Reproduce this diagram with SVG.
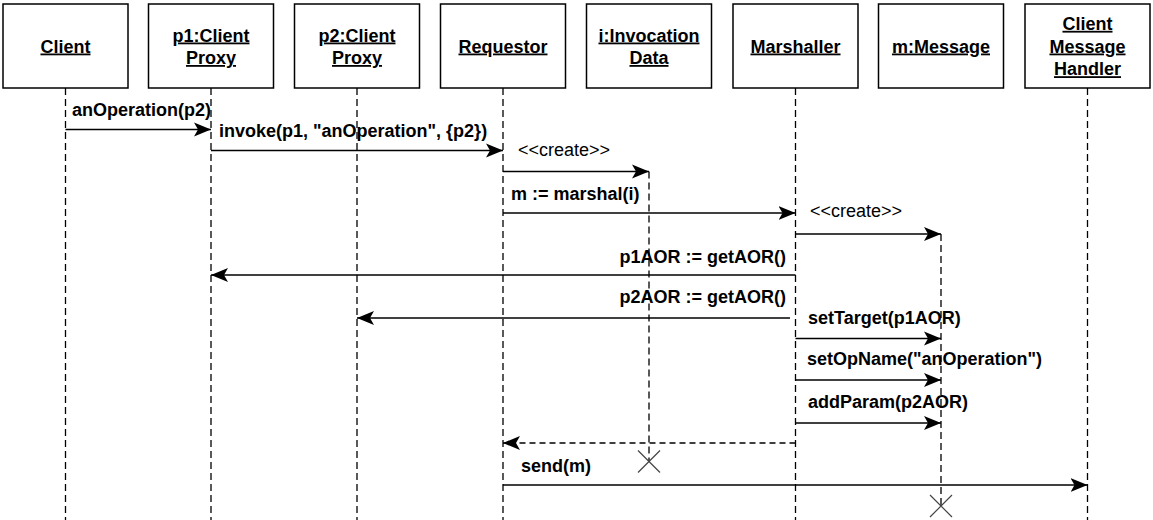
<svg xmlns="http://www.w3.org/2000/svg" width="1153" height="520" viewBox="0 0 1153 520">
<style>
  .box { fill: #ffffff; stroke: #000000; stroke-width: 1.5; }
  .title { font-family: "Liberation Sans", Arial, Helvetica, sans-serif; font-size: 18px; font-weight: bold; text-anchor: middle; text-decoration: underline; fill: #000000; }
  .life { stroke: #000000; stroke-width: 1.3; stroke-dasharray: 7 4; fill: none; }
  .msg { stroke: #000000; stroke-width: 1.5; fill: none; }
  .ret { stroke: #000000; stroke-width: 1.5; stroke-dasharray: 6 4; fill: none; }
  .lbl { font-family: "Liberation Sans", Arial, Helvetica, sans-serif; font-size: 18px; font-weight: bold; fill: #000000; }
  .lblr { font-family: "Liberation Sans", Arial, Helvetica, sans-serif; font-size: 18px; font-weight: normal; fill: #000000; }
  .end { text-anchor: end; }
  .kill { stroke: #444444; stroke-width: 1.2; fill: none; }
</style>
<defs>
  <marker id="arr" markerUnits="userSpaceOnUse" markerWidth="18" markerHeight="16" viewBox="0 0 18 16" refX="17" refY="8" orient="auto">
    <path d="M0,1 L17,8 L0,15 L4,8 Z" fill="#000000"/>
  </marker>
</defs>

<g id="client">
  <rect class="box" x="3" y="4" width="125" height="84"/>
  <text class="title" x="65.5" y="52.5">Client</text>
  <line class="life" x1="65.5" y1="88" x2="65.5" y2="520"/>
</g>
<g id="p1">
  <rect class="box" x="148.5" y="4" width="125" height="84"/>
  <text class="title" x="211" y="41.5">p1:Client</text>
  <text class="title" x="211" y="64">Proxy</text>
  <line class="life" x1="211" y1="88" x2="211" y2="520"/>
</g>
<g id="p2">
  <rect class="box" x="294.5" y="4" width="125" height="84"/>
  <text class="title" x="357" y="41.5">p2:Client</text>
  <text class="title" x="357" y="64">Proxy</text>
  <line class="life" x1="357" y1="88" x2="357" y2="520"/>
</g>
<g id="requestor">
  <rect class="box" x="440.5" y="4" width="125" height="84"/>
  <text class="title" x="503" y="52.5">Requestor</text>
  <line class="life" x1="503" y1="88" x2="503" y2="520"/>
</g>
<g id="invocation">
  <rect class="box" x="586.5" y="4" width="125" height="84"/>
  <text class="title" x="649" y="41.5">i:Invocation</text>
  <text class="title" x="649" y="64">Data</text>
  <line class="life" x1="649" y1="171.5" x2="649" y2="461.5"/>
  <path class="kill" d="M638,450.5 L660,472.5 M660,450.5 L638,472.5"/>
</g>
<g id="marshaller">
  <rect class="box" x="733" y="4" width="125" height="84"/>
  <text class="title" x="795.5" y="52.5">Marshaller</text>
  <line class="life" x1="795.5" y1="88" x2="795.5" y2="520"/>
</g>
<g id="message">
  <rect class="box" x="878.5" y="4" width="125" height="84"/>
  <text class="title" x="941" y="52.5">m:Message</text>
  <line class="life" x1="941" y1="234" x2="941" y2="506"/>
  <path class="kill" d="M930,495 L952,517 M952,495 L930,517"/>
</g>
<g id="handler">
  <rect class="box" x="1025" y="4" width="125" height="84"/>
  <text class="title" x="1087.5" y="29.8">Client</text>
  <text class="title" x="1087.5" y="52.5">Message</text>
  <text class="title" x="1087.5" y="75.2">Handler</text>
  <line class="life" x1="1087.5" y1="88" x2="1087.5" y2="520"/>
</g>

<g id="connectors">
  <line class="msg" x1="65.5" y1="129.5" x2="211" y2="129.5" marker-end="url(#arr)"/>
  <text class="lbl" x="72" y="115.5">anOperation(p2)</text>

  <line class="msg" x1="211" y1="150.5" x2="503" y2="150.5" marker-end="url(#arr)"/>
  <text class="lbl" x="219" y="136.5">invoke(p1, "anOperation", {p2})</text>

  <line class="msg" x1="503" y1="171.5" x2="649" y2="171.5" marker-end="url(#arr)"/>
  <text class="lblr" x="518" y="155.5">&lt;&lt;create&gt;&gt;</text>

  <line class="msg" x1="503" y1="213" x2="795.5" y2="213" marker-end="url(#arr)"/>
  <text class="lbl" x="511" y="199.5">m := marshal(i)</text>

  <line class="msg" x1="795.5" y1="234" x2="941" y2="234" marker-end="url(#arr)"/>
  <text class="lblr" x="810" y="217">&lt;&lt;create&gt;&gt;</text>

  <line class="msg" x1="795.5" y1="275" x2="211" y2="275" marker-end="url(#arr)"/>
  <text class="lbl end" x="786" y="262.5">p1AOR := getAOR()</text>

  <line class="msg" x1="790" y1="318" x2="357" y2="318" marker-end="url(#arr)"/>
  <text class="lbl end" x="786" y="303">p2AOR := getAOR()</text>

  <line class="msg" x1="795.5" y1="338.5" x2="941" y2="338.5" marker-end="url(#arr)"/>
  <text class="lbl" x="808" y="323.5">setTarget(p1AOR)</text>

  <line class="msg" x1="795.5" y1="380" x2="941" y2="380" marker-end="url(#arr)"/>
  <text class="lbl" x="807" y="365">setOpName("anOperation")</text>

  <line class="msg" x1="795.5" y1="423" x2="941" y2="423" marker-end="url(#arr)"/>
  <text class="lbl" x="808" y="407.5">addParam(p2AOR)</text>

  <line class="ret" x1="795.5" y1="443" x2="503" y2="443" marker-end="url(#arr)"/>

  <line class="msg" x1="503" y1="485" x2="1087.5" y2="485" marker-end="url(#arr)"/>
  <text class="lbl" x="521" y="471.5">send(m)</text>
</g>
</svg>
